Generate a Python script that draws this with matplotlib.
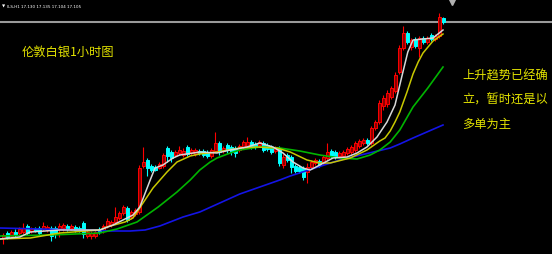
"""伦敦白银 1小时 K线图 (MT4 风格)."""

import matplotlib.pyplot as plt
import numpy as np

plt.rcParams['font.family'] = ['Noto Sans CJK SC', 'DejaVu Sans']

# OHLC, one bar per hour
opens = [16.050, 16.075, 16.060, 16.080, 16.075, 16.080, 16.110, 16.085, 16.095, 16.100,
         16.095, 16.090, 16.100, 16.100, 16.095, 16.100, 16.110, 16.100, 16.105, 16.100,
         16.125, 16.060, 16.060, 16.060, 16.095, 16.090, 16.110, 16.115, 16.130, 16.150,
         16.175, 16.200, 16.155, 16.170, 16.180, 16.410, 16.440, 16.410, 16.405, 16.400,
         16.410, 16.500, 16.480, 16.465, 16.475, 16.465, 16.505, 16.475, 16.470, 16.485,
         16.485, 16.480, 16.460, 16.485, 16.525, 16.485, 16.515, 16.505, 16.500, 16.490,
         16.505, 16.510, 16.530, 16.520, 16.515, 16.525, 16.515, 16.505, 16.485, 16.500,
         16.415, 16.465, 16.455, 16.410, 16.405, 16.400, 16.380, 16.405, 16.425, 16.435,
         16.425, 16.450, 16.485, 16.480, 16.460, 16.460, 16.475, 16.480, 16.490, 16.510,
         16.525, 16.540, 16.525, 16.600, 16.630, 16.710, 16.720, 16.755, 16.785, 16.880,
         17.000, 17.075, 17.005, 17.045, 17.000, 17.050, 17.030, 17.065, 17.045, 17.060,
         17.150]
highs = [16.075, 16.085, 16.090, 16.095, 16.105, 16.125, 16.120, 16.105, 16.105, 16.110,
         16.130, 16.115, 16.110, 16.110, 16.125, 16.125, 16.120, 16.120, 16.115, 16.110,
         16.135, 16.090, 16.085, 16.090, 16.105, 16.120, 16.150, 16.140, 16.205, 16.185,
         16.215, 16.210, 16.190, 16.200, 16.415, 16.505, 16.450, 16.420, 16.415, 16.430,
         16.475, 16.510, 16.490, 16.490, 16.510, 16.500, 16.515, 16.500, 16.500, 16.495,
         16.495, 16.490, 16.500, 16.580, 16.535, 16.510, 16.525, 16.515, 16.510, 16.520,
         16.540, 16.555, 16.540, 16.530, 16.540, 16.535, 16.525, 16.515, 16.510, 16.510,
         16.470, 16.475, 16.465, 16.420, 16.415, 16.410, 16.425, 16.440, 16.450, 16.445,
         16.465, 16.525, 16.495, 16.490, 16.485, 16.490, 16.505, 16.515, 16.535, 16.545,
         16.550, 16.550, 16.610, 16.640, 16.740, 16.765, 16.790, 16.810, 16.880, 17.015,
         17.110, 17.085, 17.050, 17.055, 17.060, 17.060, 17.060, 17.075, 17.070, 17.175,
         17.155]
lows = [16.020, 16.045, 16.050, 16.055, 16.060, 16.070, 16.065, 16.075, 16.080, 16.065,
        16.085, 16.080, 16.035, 16.050, 16.055, 16.085, 16.085, 16.090, 16.080, 16.080,
        16.050, 16.050, 16.045, 16.050, 16.070, 16.075, 16.100, 16.105, 16.120, 16.140,
        16.165, 16.130, 16.145, 16.160, 16.170, 16.400, 16.360, 16.380, 16.385, 16.395,
        16.400, 16.430, 16.430, 16.455, 16.465, 16.455, 16.460, 16.465, 16.460, 16.465,
        16.455, 16.450, 16.450, 16.480, 16.465, 16.475, 16.475, 16.465, 16.455, 16.480,
        16.495, 16.500, 16.495, 16.495, 16.505, 16.480, 16.485, 16.470, 16.475, 16.410,
        16.400, 16.430, 16.375, 16.375, 16.375, 16.340, 16.325, 16.395, 16.415, 16.405,
        16.415, 16.440, 16.450, 16.445, 16.450, 16.450, 16.465, 16.470, 16.480, 16.500,
        16.515, 16.515, 16.515, 16.590, 16.620, 16.690, 16.705, 16.745, 16.775, 16.870,
        16.990, 17.020, 16.990, 17.000, 16.955, 17.020, 17.020, 17.035, 17.035, 17.050,
        17.120]
closes = [16.065, 16.055, 16.080, 16.065, 16.095, 16.100, 16.075, 16.095, 16.085, 16.075,
          16.110, 16.105, 16.060, 16.070, 16.110, 16.115, 16.095, 16.110, 16.090, 16.090,
          16.070, 16.080, 16.075, 16.080, 16.080, 16.110, 16.135, 16.130, 16.155, 16.175,
          16.205, 16.140, 16.180, 16.190, 16.400, 16.430, 16.400, 16.390, 16.390, 16.420,
          16.465, 16.460, 16.450, 16.480, 16.490, 16.485, 16.470, 16.490, 16.490, 16.475,
          16.465, 16.460, 16.490, 16.525, 16.480, 16.500, 16.490, 16.480, 16.475, 16.510,
          16.530, 16.530, 16.505, 16.505, 16.530, 16.490, 16.495, 16.480, 16.500, 16.425,
          16.455, 16.440, 16.405, 16.385, 16.385, 16.355, 16.405, 16.430, 16.440, 16.415,
          16.455, 16.480, 16.460, 16.455, 16.475, 16.480, 16.495, 16.505, 16.525, 16.535,
          16.540, 16.525, 16.600, 16.630, 16.725, 16.750, 16.775, 16.800, 16.865, 17.000,
          17.075, 17.030, 17.040, 17.010, 17.050, 17.030, 17.050, 17.045, 17.060, 17.155,
          17.130]

# moving averages (bar position, price)
ma_fast_x = [-0.8, 4.2, 6.8, 14.2, 24.2, 27.5, 30.0, 32.5, 34.2, 36.8, 38.0, 40.0, 42.5,
             44.2, 49.2, 53.5, 56.8, 61.0, 64.2, 67.5, 70.0, 72.5, 75.0, 76.8, 79.2, 82.5,
             86.0, 88.5, 91.0, 93.5, 96.0, 98.0, 99.8, 101.2, 102.5, 105.0, 107.5, 110.0]
ma_fast = [16.045, 16.055, 16.080, 16.090, 16.090, 16.115, 16.140, 16.165, 16.205, 16.340,
           16.400, 16.415, 16.450, 16.465, 16.480, 16.475, 16.490, 16.505, 16.525, 16.505,
           16.475, 16.430, 16.400, 16.390, 16.415, 16.450, 16.455, 16.475, 16.505, 16.555,
           16.630, 16.715, 16.865, 16.980, 17.040, 17.045, 17.050, 17.090]

ma_mid_x = [-0.8, 6.8, 14.2, 24.2, 26.0, 30.5, 32.5, 35.0, 37.5, 41.0, 43.5, 46.8, 49.2,
            53.5, 59.2, 63.5, 68.5, 71.8, 76.0, 79.2, 81.8, 86.8, 91.0, 94.2, 95.5, 96.8,
            98.0, 99.2, 101.0, 102.5, 103.8, 105.0, 107.5, 110.0]
ma_mid = [16.045, 16.050, 16.075, 16.090, 16.105, 16.130, 16.150, 16.225, 16.300, 16.380,
          16.430, 16.460, 16.470, 16.480, 16.500, 16.505, 16.500, 16.480, 16.440, 16.425,
          16.425, 16.450, 16.490, 16.535, 16.550, 16.585, 16.630, 16.680, 16.780, 16.870,
          16.930, 16.975, 17.035, 17.070]

ma_slow_x = [-0.8, 11.8, 24.2, 28.5, 33.5, 38.8, 43.5, 46.8, 49.2, 51.8, 53.5, 56.8, 59.2,
             64.2, 69.2, 74.2, 79.2, 84.2, 88.5, 91.8, 94.2, 96.8, 99.2, 102.5, 106.2, 110.0]
ma_slow = [16.060, 16.065, 16.075, 16.095, 16.130, 16.205, 16.280, 16.340, 16.390, 16.430,
           16.450, 16.475, 16.490, 16.505, 16.500, 16.485, 16.465, 16.450, 16.445, 16.465,
           16.490, 16.530, 16.590, 16.705, 16.800, 16.905]

ma_long_x = [-0.8, 9.2, 19.2, 26.8, 31.8, 35.5, 39.2, 45.0, 49.2, 59.2, 69.2, 71.8, 84.2,
             96.8, 99.2, 102.5, 110.0]
ma_long = [16.100, 16.095, 16.090, 16.085, 16.085, 16.090, 16.110, 16.155, 16.180, 16.270,
           16.340, 16.360, 16.440, 16.500, 16.520, 16.550, 16.615]

header = "ILS,H1 17.130 17.135 17.104 17.105"
title = "伦敦白银1小时图"
note_lines = ["上升趋势已经确", "立，暂时还是以", "多单为主"]

UP_EDGE = "#ff0000"
UP_FILL = "#8b0000"
DOWN = "#00ffff"
TEXT_YELLOW = "#e4e400"


def plot_chart(save_path="out.png"):
    fig = plt.figure(figsize=(5.52, 2.54), dpi=100)
    fig.patch.set_facecolor("black")
    ax = fig.add_axes([0, 0, 1, 1])
    ax.set_facecolor("black")

    o = np.array(opens)
    h = np.array(highs)
    l = np.array(lows)
    c = np.array(closes)
    x = np.arange(len(c))
    up = c >= o

    # current price line
    ax.axhline(c[-1], color="#9a9a9a", linewidth=1.5, zorder=1)

    wick_colors = np.where(up, UP_EDGE, DOWN)
    ax.vlines(x, l, h, colors=wick_colors, linewidth=0.8, zorder=2)

    bottoms = np.minimum(o, c)
    heights = np.maximum(np.abs(c - o), 0.002)
    ax.bar(x[up], heights[up], bottom=bottoms[up], width=0.75,
           color=UP_FILL, edgecolor=UP_EDGE, linewidth=0.7, zorder=3)
    ax.bar(x[~up], heights[~up], bottom=bottoms[~up], width=0.75,
           color=DOWN, edgecolor=DOWN, linewidth=0.7, zorder=3)

    ax.plot(ma_long_x, ma_long, color="#1414e6", linewidth=1.2, zorder=4)
    ax.plot(ma_slow_x, ma_slow, color="#00b400", linewidth=1.2, zorder=4)
    ax.plot(ma_mid_x, ma_mid, color="#c8c800", linewidth=1.1, zorder=5)
    ax.plot(ma_fast_x, ma_fast, color="#d8d8d8", linewidth=1.1, zorder=6)

    # chart shift marker
    ax.plot([len(c) + 1.2], [17.230], marker="v", color="#b0b0b0",
            markersize=4, zorder=6)

    ax.set_xlim(-0.75, 137.25)
    ax.set_ylim(15.97, 17.24)
    ax.axis("off")

    ax.text(0.004, 0.974, "▼", transform=ax.transAxes, color="white",
            fontsize=3, ha="left", va="center", family="DejaVu Sans")
    ax.text(0.013, 0.974, header, transform=ax.transAxes, color="white",
            fontsize=3.0, ha="left", va="center", family="DejaVu Sans")

    ax.text(0.040, 0.795, title, transform=ax.transAxes, color=TEXT_YELLOW,
            fontsize=8.8, ha="left", va="center")

    for k, line in enumerate(note_lines):
        ax.text(0.838, 0.700 - k * 0.095, line, transform=ax.transAxes,
                color=TEXT_YELLOW, fontsize=8.8, ha="left", va="center")

    fig.savefig(save_path, dpi=100, facecolor="black")
    plt.close(fig)


if __name__ == "__main__":
    plot_chart()
